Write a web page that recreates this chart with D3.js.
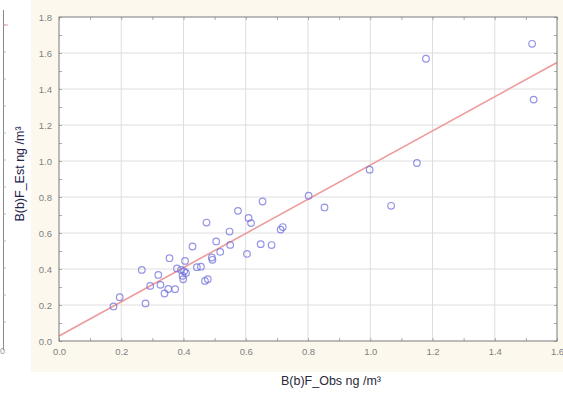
<!DOCTYPE html>
<html>
<head>
<meta charset="utf-8">
<script src="https://cdn.jsdelivr.net/npm/d3@7"></script>
<style>
  body { margin: 0; background: #fff; }
  text { font-family: Arial, "Liberation Sans", sans-serif; }
</style>
</head>
<body>
<div id="chart"></div>
<script>
const obsX = [1.520, 1.179, 1.525, 1.150, 0.998, 1.067, 0.802, 0.853, 0.654, 0.575,
              0.609, 0.617, 0.474, 0.548, 0.719, 0.712, 0.505, 0.429, 0.550, 0.648,
              0.683, 0.518, 0.604, 0.491, 0.493, 0.355, 0.405, 0.266, 0.379, 0.392,
              0.402, 0.408, 0.397, 0.443, 0.456, 0.319, 0.399, 0.469, 0.478, 0.293,
              0.326, 0.351, 0.373, 0.339, 0.195, 0.278, 0.175]
const estY = [1.651, 1.568, 1.341, 0.989, 0.952, 0.751, 0.807, 0.742, 0.775, 0.723,
              0.684, 0.655, 0.658, 0.608, 0.633, 0.619, 0.553, 0.525, 0.534, 0.538,
              0.533, 0.495, 0.484, 0.464, 0.451, 0.460, 0.445, 0.395, 0.403, 0.395,
              0.387, 0.378, 0.362, 0.410, 0.413, 0.367, 0.343, 0.334, 0.343, 0.306,
              0.312, 0.289, 0.288, 0.264, 0.243, 0.209, 0.192]
// fitted line end points
const fitX = [0, 1.6]
const fitY = [0.028, 1.547]
const xTicks = [0, 0.2, 0.4, 0.6, 0.8, 1.0, 1.2, 1.4, 1.6]
const yTicks = [0, 0.2, 0.4, 0.6, 0.8, 1.0, 1.2, 1.4, 1.6, 1.8]

const width = 563, height = 396
const svg = d3.select("#chart").append("svg")
    .attr("width", width)
    .attr("height", height)

// cream panel behind the plot
svg.append("rect")
    .attr("x", 31).attr("y", 0)
    .attr("width", width - 31).attr("height", 372)
    .attr("fill", "#fcf8ee")

// bit of the neighbouring figure at the far left
const frag = svg.append("g")
frag.append("line")
    .attr("x1", 3.5).attr("x2", 3.5).attr("y1", 10).attr("y2", 350)
    .attr("stroke", "#8a8a8a").attr("stroke-width", 1)
d3.range(12).forEach(i => {
  frag.append("line")
      .attr("x1", 3.5).attr("x2", 6).attr("y1", 25 + i * 27).attr("y2", 25 + i * 27)
      .attr("stroke", "#bbb")
})
frag.append("line")
    .attr("x1", 4).attr("x2", 8).attr("y1", 25).attr("y2", 25)
    .attr("stroke", "#e8a0a0")
frag.append("text")
    .attr("x", 0).attr("y", 354)
    .attr("font-size", 9).attr("fill", "#999")
    .text("0")

const pLeft = 59, pRight = 557, pTop = 17, pBottom = 341

const x = d3.scaleLinear().domain([0, 1.6]).range([pLeft, pRight])
const y = d3.scaleLinear().domain([0, 1.8]).range([pBottom, pTop])

const plot = svg.append("g")

plot.append("rect")
    .attr("x", pLeft).attr("y", pTop)
    .attr("width", pRight - pLeft).attr("height", pBottom - pTop)
    .attr("fill", "#fff")

// grid
plot.append("g").selectAll("line")
  .data(xTicks.slice(1, -1))
  .enter().append("line")
    .attr("x1", d => x(d)).attr("x2", d => x(d))
    .attr("y1", pTop).attr("y2", pBottom)
    .attr("stroke", "#dedede")
plot.append("g").selectAll("line")
  .data(yTicks.slice(1, -1))
  .enter().append("line")
    .attr("x1", pLeft).attr("x2", pRight)
    .attr("y1", d => y(d)).attr("y2", d => y(d))
    .attr("stroke", "#dedede")

// minor inside ticks on all four sides
const xMinor = d3.range(0, 16.01, 1).map(d => d / 10)
const yMinor = d3.range(0, 18.01, 1).map(d => d / 10)
function minorTicks(axis, tx, ty) {
  const g = plot.append("g")
      .attr("transform", `translate(${tx},${ty})`)
      .call(axis.tickSize(-3).tickFormat(""))
  g.select(".domain").remove()
  g.selectAll("line").attr("stroke", "#aaa")
}
minorTicks(d3.axisBottom(x).tickValues(xMinor), 0, pBottom)
minorTicks(d3.axisTop(x).tickValues(xMinor), 0, pTop)
minorTicks(d3.axisLeft(y).tickValues(yMinor), pLeft, 0)
minorTicks(d3.axisRight(y).tickValues(yMinor), pRight, 0)

// tick labels
const xAxis = svg.append("g")
    .attr("transform", `translate(0,${pBottom})`)
    .call(d3.axisBottom(x).tickValues(xTicks).tickSize(0).tickPadding(7).tickFormat(d3.format(".1f")))
xAxis.select(".domain").remove()
xAxis.selectAll("text").attr("font-size", 9.5).attr("fill", "#808080")
    .attr("font-family", "Arial, 'Liberation Sans', sans-serif")

const yAxis = svg.append("g")
    .attr("transform", `translate(${pLeft},0)`)
    .call(d3.axisLeft(y).tickValues(yTicks).tickSize(0).tickPadding(7).tickFormat(d3.format(".1f")))
yAxis.select(".domain").remove()
yAxis.selectAll("text").attr("font-size", 9.5).attr("fill", "#808080")
    .attr("font-family", "Arial, 'Liberation Sans', sans-serif")

// fitted line
const pts = obsX.map((v, i) => ({ o: v, e: estY[i] }))
plot.append("line")
    .attr("x1", x(fitX[0])).attr("y1", y(fitY[0]))
    .attr("x2", x(fitX[1])).attr("y2", y(fitY[1]))
    .attr("stroke", "#ee9a9a")
    .attr("stroke-width", 1.6)

// points
plot.append("g").selectAll("circle")
  .data(pts)
  .enter().append("circle")
    .attr("cx", d => x(d.o))
    .attr("cy", d => y(d.e))
    .attr("r", 3.3)
    .attr("fill", "none")
    .attr("stroke", "#7070dc")
    .attr("stroke-opacity", 0.75)
    .attr("stroke-width", 1.2)

// frame
plot.append("rect")
    .attr("x", pLeft).attr("y", pTop)
    .attr("width", pRight - pLeft).attr("height", pBottom - pTop)
    .attr("fill", "none")
    .attr("stroke", "#7a7a7a")
    .attr("stroke-width", 1)

// axis titles
svg.append("text")
    .attr("x", 331).attr("y", 385)
    .attr("text-anchor", "middle")
    .attr("font-size", 12.5)
    .attr("fill", "#2a2a3a")
    .text("B(b)F_Obs ng /m³")

svg.append("text")
    .attr("transform", `translate(24,${174}) rotate(-90)`)
    .attr("text-anchor", "middle")
    .attr("font-size", 12.5)
    .attr("fill", "#22224a")
    .text("B(b)F_Est ng /m³")
</script>
</body>
</html>
